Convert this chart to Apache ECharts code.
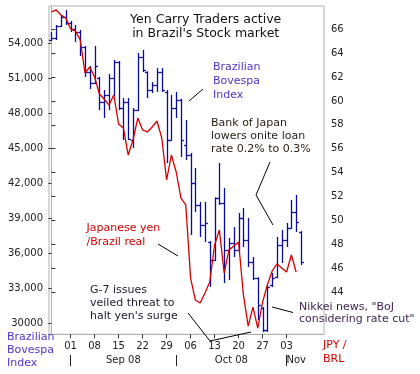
<!DOCTYPE html>
<html>
<head>
<meta charset="utf-8">
<script src="https://cdn.jsdelivr.net/npm/echarts@6/dist/echarts.min.js"></script>
<style>html,body{margin:0;padding:0;background:#fff}#c{width:420px;height:374px}</style>
</head>
<body>
<div id="c"></div>
<script>
// Trading days (categories)
const dates = [
 '2008-08-26','2008-08-27','2008-08-28','2008-08-29',
 '2008-09-01','2008-09-02','2008-09-03','2008-09-04','2008-09-05',
 '2008-09-08','2008-09-09','2008-09-10','2008-09-11','2008-09-12',
 '2008-09-15','2008-09-16','2008-09-17','2008-09-18','2008-09-19',
 '2008-09-22','2008-09-23','2008-09-24','2008-09-25','2008-09-26',
 '2008-09-29','2008-09-30','2008-10-01','2008-10-02','2008-10-03',
 '2008-10-06','2008-10-07','2008-10-08','2008-10-09','2008-10-10',
 '2008-10-13','2008-10-14','2008-10-15','2008-10-16','2008-10-17',
 '2008-10-20','2008-10-21','2008-10-22','2008-10-23','2008-10-24',
 '2008-10-27','2008-10-28','2008-10-29','2008-10-30','2008-10-31',
 '2008-11-03','2008-11-04','2008-11-05','2008-11-06'
];
// Brazilian Bovespa index, daily bars
const bovespaOpen  = [54280,54450,55480,56250,55740,55230,54970,53680,51540,50600,51030,48970,49570,51030,52400,48450,48970,45750,48280,52830,51540,50000,50430,51540,49830,45710,48450,49140,45280,44430,42030,40140,38430,36970,35430,40740,40310,36280,36880,36280,39030,37140,35250,33880,31310,29430,33280,33970,36710,37140,38170,39540,37830];
const bovespaHigh  = [54970,55570,56430,56850,55910,55570,55140,53770,52050,53770,51110,50000,51370,52570,52480,49310,49310,48450,53170,53430,51600,50680,51880,51880,50000,49570,49830,49250,47430,44600,43310,40400,40400,37050,40800,43740,41600,37310,38250,39450,39880,39030,35680,33950,31400,33280,34310,37400,38000,38600,40570,41000,37900];
const bovespaLow   = [54200,54280,55400,55570,54970,54110,52910,51110,50080,50510,48280,47600,48280,49480,48280,45710,45710,45030,48200,51540,49310,49740,49830,49830,43740,45650,47600,44250,44000,37570,39540,37400,36970,33110,35350,40140,33450,33710,35680,36200,36540,34830,33710,30280,29250,29250,33110,33880,35170,36540,38100,37830,35000];
const bovespaClose = [54450,55480,56250,55740,55230,54970,53680,51540,50600,52050,48970,49570,51030,52400,48450,48970,45800,48280,52830,51710,50000,50430,51540,50000,45710,48450,49140,45710,44430,42030,40140,38430,38600,35430,40740,40310,36280,36880,36280,39030,37140,35250,33880,31570,29430,33110,33880,36710,37140,38170,39540,38680,35250];
// Japanese yen / Brazil real
const jpyBrl = [67.45,67.62,67.20,66.95,66.03,65.86,65.11,62.34,62.84,62.01,60.58,60.16,59.66,60.50,58.07,57.74,55.47,56.73,58.57,57.57,57.40,57.82,58.32,56.90,53.38,55.47,54.05,51.87,51.29,45.17,43.33,43.08,43.92,44.84,47.94,49.19,45.59,47.52,47.85,48.19,43.80,41.15,42.74,40.98,43.16,44.59,45.76,46.35,46.01,45.68,47.10,45.68];

// Tick labels
const xTickDates  = ['2008-09-01','2008-09-08','2008-09-15','2008-09-22','2008-09-29','2008-10-06','2008-10-13','2008-10-20','2008-10-27','2008-11-03'];
const xTickLabels = ['01','08','15','22','29','06','13','20','27','03'];
const monthStartDates = ['2008-09-01','2008-10-01','2008-11-03'];
const monthLabels = ['Sep 08','Oct 08','Nov'];
const leftTickValues = [30000,33000,36000,39000,42000,45000,48000,51000,54000];
const leftTickLabels = ['30000','33,000','36,000','39,000','42,000','45,000','48,000','51,000','54,000'];
const rightTickValues = [44,46,48,50,52,54,56,58,60,62,64,66];
const rightTickLabels = ['44','46','48','50','52','54','56','58','60','62','64','66'];

const FONT = '"DejaVu Sans", Verdana, sans-serif';
const BLUE = '#0a0a98';
const RED = '#d40000';
const PURPLE = '#5134cc';

const xTickIdx = xTickDates.map(d => dates.indexOf(d));
const xLabelMap = {}; xTickIdx.forEach((v, i) => xLabelMap[v] = xTickLabels[i]);
const monthIdx = monthStartDates.map(d => dates.indexOf(d));
const monthEnds = monthIdx.slice(1).concat([dates.length]);
const monthCenters = monthIdx.map((s, i) => (s + monthEnds[i]) / 2);
const monthMap = {}; monthCenters.forEach((v, i) => monthMap[String(v)] = monthLabels[i]);
const leftMap = {}; leftTickValues.forEach((v, i) => leftMap[v] = leftTickLabels[i]);
const rightMap = {}; rightTickValues.forEach((v, i) => rightMap[v] = rightTickLabels[i]);

const ohlc = dates.map((d, i) => [i, bovespaOpen[i], bovespaHigh[i], bovespaLow[i], bovespaClose[i]]);

const chart = echarts.init(document.getElementById('c'), null, {renderer: 'canvas'});

function txt(text, x, y, color, size, lh, align) {
  return {type: 'text', silent: true, z: 100,
    style: {text: text, x: x, y: y, fill: color, fontSize: size, fontFamily: FONT,
      lineHeight: lh, align: align || 'left', verticalAlign: 'top'}};
}
function leader(points) {
  return {type: 'polyline', silent: true, z: 100,
    shape: {points: points}, style: {stroke: '#000', lineWidth: 1, fill: null}};
}

const option = {
  animation: false,
  backgroundColor: '#fff',
  grid: {left: 49, right: 96, top: 6, bottom: 39.7, show: true, borderColor: '#b0b0b0', borderWidth: 1},
  xAxis: [
    {type: 'value', min: -0.5, max: 56.8, position: 'bottom',
      axisLine: {show: true, onZero: false, lineStyle: {color: '#b0b0b0'}},
      axisTick: {show: true, customValues: xTickIdx, length: 4, lineStyle: {color: '#333'}},
      axisLabel: {customValues: xTickIdx, formatter: v => xLabelMap[v] || '', margin: 7,
        color: '#222', fontSize: 10, fontFamily: FONT},
      splitLine: {show: false}},
    {type: 'value', min: -0.5, max: 56.8, position: 'bottom', offset: 20.7,
      axisLine: {show: false},
      axisTick: {show: true, customValues: monthIdx, length: 11, lineStyle: {color: '#222'}},
      axisLabel: {customValues: monthCenters, formatter: v => monthMap[String(v)] || '', margin: 0,
        color: '#222', fontSize: 10, fontFamily: FONT},
      splitLine: {show: false}}
  ],
  yAxis: [
    {type: 'value', position: 'left', min: 29057, max: 57197,
      axisLine: {show: true, lineStyle: {color: '#b0b0b0'}},
      axisTick: {show: true, customValues: leftTickValues, length: 3, lineStyle: {color: '#333'}},
      axisLabel: {customValues: leftTickValues, formatter: v => leftMap[v] || '', margin: 6,
        color: '#222', fontSize: 10, fontFamily: FONT},
      splitLine: {show: false}},
    {type: 'value', position: 'right', min: 40.46, max: 67.95,
      axisLine: {show: true, lineStyle: {color: '#b0b0b0'}},
      axisTick: {show: true, customValues: rightTickValues, length: 4, lineStyle: {color: '#333'}},
      axisLabel: {customValues: rightTickValues, formatter: v => rightMap[v] || '', margin: 7,
        color: '#222', fontSize: 10, fontFamily: FONT},
      splitLine: {show: false}}
  ],
  series: [
    {type: 'custom', name: 'Bovespa', xAxisIndex: 0, yAxisIndex: 0, data: ohlc,
      encode: {x: 0, y: [1, 2, 3, 4]},
      renderItem: function (params, api) {
        const i = api.value(0);
        const pO = api.coord([i, api.value(1)]);
        const pH = api.coord([i, api.value(2)]);
        const pL = api.coord([i, api.value(3)]);
        const pC = api.coord([i, api.value(4)]);
        const x = Math.round(pH[0]) + 0.5;
        const st = {stroke: BLUE, lineWidth: 1.3};
        return {type: 'group', children: [
          {type: 'line', shape: {x1: x, y1: pH[1], x2: x, y2: pL[1]}, style: st},
          {type: 'line', shape: {x1: x - 2.4, y1: Math.round(pO[1]) + 0.5, x2: x, y2: Math.round(pO[1]) + 0.5}, style: st},
          {type: 'line', shape: {x1: x, y1: Math.round(pC[1]) + 0.5, x2: x + 2.4, y2: Math.round(pC[1]) + 0.5}, style: st}
        ]};
      }},
    {type: 'line', name: 'JPY/BRL', xAxisIndex: 0, yAxisIndex: 1,
      data: jpyBrl.map((v, i) => [i, v]), showSymbol: false, symbol: 'none',
      lineStyle: {color: RED, width: 1.3}, z: 3}
  ],
  graphic: [
    txt('Yen Carry Traders active\nin Brazil\'s Stock market', 205.7, 13.2, '#111', 12.5, 13.5, 'center'),
    txt('Brazilian\nBovespa\nIndex', 213, 60.5, PURPLE, 11, 14),
    txt('Bank of Japan\nlowers onite loan\nrate 0.2% to 0.3%', 211, 116.8, '#2a1c10', 11, 13),
    txt('Japanese yen\n/Brazil real', 86.5, 221.8, RED, 11, 13.4),
    txt('G-7 issues\nveiled threat to\nhalt yen\'s surge', 90, 283.5, '#1a1a2e', 11, 13),
    txt('Nikkei news, "BoJ\nconsidering rate cut"', 299, 300.3, '#3a1f4a', 11, 12.8),
    txt('JPY /\nBRL', 323, 338, RED, 11, 14),
    txt('Brazilian\nBovespa\nIndex', 7, 330.3, PURPLE, 11, 13.3),
    leader([[189, 101], [203, 89]]),
    leader([[270, 162], [256, 195], [273, 225]]),
    leader([[158, 244], [178, 256]]),
    leader([[188, 313], [210, 341], [251, 332]]),
    leader([[272, 307], [293, 312.5]])
  ]
};
chart.setOption(option);
</script>
</body>
</html>
